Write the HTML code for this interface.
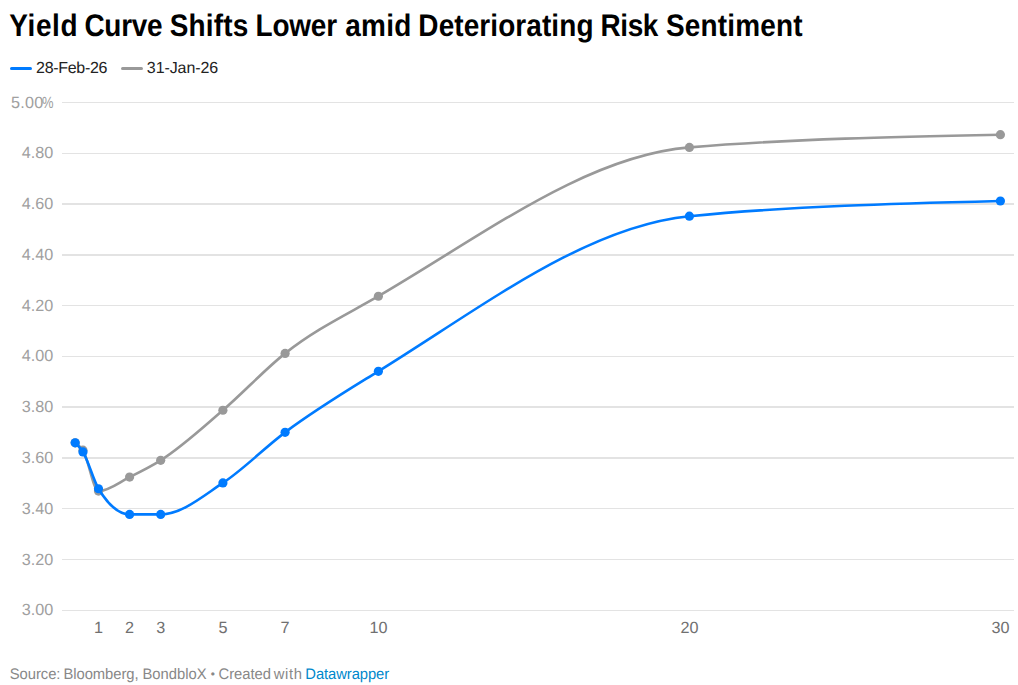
<!DOCTYPE html>
<html lang="en"><head><meta charset="utf-8"><title>Yield Curve Shifts Lower amid Deteriorating Risk Sentiment</title>
<style>
html,body{margin:0;padding:0;background:#fff;overflow:hidden;}
body{width:1018px;height:685px;position:relative;overflow:hidden;font-family:"Liberation Sans",Arial,sans-serif;text-rendering:geometricPrecision;}
.w{position:absolute;top:0;white-space:nowrap;}
#title{position:absolute;left:0;top:7.6px;width:1000px;height:36px;margin:0;font-size:31.2px;line-height:36px;font-weight:700;color:#000;transform:scaleX(0.896);transform-origin:0 0;}
#legend{position:absolute;left:0;top:58.6px;width:1018px;height:20px;font-size:16px;line-height:20px;color:#222;}
#legend .k{position:absolute;top:8.2px;width:21.8px;height:3px;border-radius:1.5px;}
#footer{position:absolute;left:0;top:664.7px;width:1000px;height:20px;font-size:15.3px;line-height:20px;color:#888;transform:scaleX(0.967);transform-origin:0 0;}
#footer a{color:#0088cc;text-decoration:none;}
svg{position:absolute;left:0;top:0;}
svg text{font-family:"Liberation Sans",Arial,sans-serif;font-size:16.2px;text-rendering:geometricPrecision;}
</style></head><body>
<h1 id="title"><span class="w t" style="left:10.34px;letter-spacing:0.729px">Yield</span> <span class="w t" style="left:94.24px;letter-spacing:-0.295px">Curve</span> <span class="w t" style="left:189.41px;letter-spacing:0.233px">Shifts</span> <span class="w t" style="left:285.14px;letter-spacing:-0.183px">Lower</span> <span class="w t" style="left:385.28px;letter-spacing:0.320px">amid</span> <span class="w t" style="left:466.93px;letter-spacing:0.111px">Deteriorating</span> <span class="w t" style="left:670.16px;letter-spacing:-0.423px">Risk</span> <span class="w t" style="left:743.25px;letter-spacing:0.217px">Sentiment</span></h1>
<div id="legend">
<span class="k" style="left:10.1px;background:#007bff"></span><span class="k" style="left:121px;background:#999"></span><span class="w l" style="left:36.12px;letter-spacing:-0.314px">28-Feb-26</span> <span class="w l" style="left:146.85px;letter-spacing:-0.097px">31-Jan-26</span>
</div>
<svg width="1018" height="685" viewBox="0 0 1018 685">
<g fill="#e3e3e3" shape-rendering="crispEdges"><rect x="62" y="102" width="952" height="1"/><rect x="62" y="153" width="952" height="1"/><rect x="62" y="203" width="952" height="2"/><rect x="62" y="254" width="952" height="2"/><rect x="62" y="305" width="952" height="1"/><rect x="62" y="356" width="952" height="1"/><rect x="62" y="406" width="952" height="2"/><rect x="62" y="457" width="952" height="2"/><rect x="62" y="508" width="952" height="1"/><rect x="62" y="559" width="952" height="1"/><rect x="62" y="610" width="952" height="1"/></g>
<g fill="#a0a0a0"><text x="43.7" y="107.6" text-anchor="end" letter-spacing="0.3">5.00</text><text transform="translate(53.6 107.6) scale(0.8 1)" text-anchor="end">%</text><text x="53.3" y="158.4" text-anchor="end" letter-spacing="0.02">4.80</text><text x="53.3" y="209.2" text-anchor="end" letter-spacing="0.02">4.60</text><text x="53.3" y="259.9" text-anchor="end" letter-spacing="0.02">4.40</text><text x="53.3" y="310.7" text-anchor="end" letter-spacing="0.02">4.20</text><text x="53.3" y="361.4" text-anchor="end" letter-spacing="0.02">4.00</text><text x="53.3" y="412.2" text-anchor="end" letter-spacing="0.02">3.80</text><text x="53.3" y="463.0" text-anchor="end" letter-spacing="0.02">3.60</text><text x="53.3" y="513.7" text-anchor="end" letter-spacing="0.02">3.40</text><text x="53.3" y="564.5" text-anchor="end" letter-spacing="0.02">3.20</text><text x="53.3" y="615.2" text-anchor="end" letter-spacing="0.02">3.00</text></g>
<g fill="#707070"><text x="98.5" y="632.7" text-anchor="middle">1</text><text x="129.6" y="632.7" text-anchor="middle">2</text><text x="160.7" y="632.7" text-anchor="middle">3</text><text x="222.9" y="632.7" text-anchor="middle">5</text><text x="285.1" y="632.7" text-anchor="middle">7</text><text x="378.4" y="632.7" text-anchor="middle">10</text><text x="689.4" y="632.7" text-anchor="middle">20</text><text x="1000.4" y="632.7" text-anchor="middle">30</text></g>
<path d="M75.18,442.79C77.77,444.51,80.36,446.24,82.95,450.15C88.13,457.97,93.32,491.05,98.50,491.05C108.87,491.05,119.23,482.20,129.60,477.08C139.97,471.95,150.33,466.82,160.70,460.31C181.43,447.30,202.17,428.10,222.90,410.27C243.63,392.45,264.37,369.84,285.10,353.38C316.20,328.69,347.30,314.32,378.40,296.23C482.07,235.93,585.73,155.85,689.40,147.38C793.07,138.92,896.73,136.80,1000.40,134.68" fill="none" stroke="#999" stroke-width="2.6" stroke-linejoin="round" stroke-linecap="round"/>
<g fill="#999"><circle cx="75.18" cy="442.79" r="4.6"/><circle cx="82.95" cy="450.15" r="4.6"/><circle cx="98.50" cy="491.05" r="4.6"/><circle cx="129.60" cy="477.08" r="4.6"/><circle cx="160.70" cy="460.31" r="4.6"/><circle cx="222.90" cy="410.27" r="4.6"/><circle cx="285.10" cy="353.38" r="4.6"/><circle cx="378.40" cy="296.23" r="4.6"/><circle cx="689.40" cy="147.38" r="4.6"/><circle cx="1000.40" cy="134.68" r="4.6"/></g>
<path d="M75.18,442.79C77.77,445.32,80.36,447.85,82.95,451.93C88.13,460.09,93.32,480.21,98.50,488.76C108.87,505.86,119.23,514.41,129.60,514.41C139.97,514.41,150.33,514.41,160.70,514.41C181.43,514.41,202.17,496.59,222.90,482.92C243.63,469.24,264.37,447.91,285.10,432.37C316.20,409.06,347.30,390.53,378.40,371.29C482.07,307.15,585.73,226.38,689.40,216.22C793.07,206.06,896.73,203.52,1000.40,200.98" fill="none" stroke="#007bff" stroke-width="2.6" stroke-linejoin="round" stroke-linecap="round"/>
<g fill="#007bff"><circle cx="75.18" cy="442.79" r="4.6"/><circle cx="82.95" cy="451.93" r="4.6"/><circle cx="98.50" cy="488.76" r="4.6"/><circle cx="129.60" cy="514.41" r="4.6"/><circle cx="160.70" cy="514.41" r="4.6"/><circle cx="222.90" cy="482.92" r="4.6"/><circle cx="285.10" cy="432.37" r="4.6"/><circle cx="378.40" cy="371.29" r="4.6"/><circle cx="689.40" cy="216.22" r="4.6"/><circle cx="1000.40" cy="200.98" r="4.6"/></g>
</svg>
<div id="footer"><span class="w f" style="left:10.09px;letter-spacing:-0.045px">Source:</span> <span class="w f" style="left:65.59px;letter-spacing:-0.048px">Bloomberg,</span> <span class="w f" style="left:147.31px;letter-spacing:0.003px">BondbloX</span> <span class="w f" style="left:217.84px;letter-spacing:0.000px;font-size:0.8em;top:-1.2px">•</span> <span class="w f" style="left:226.04px;letter-spacing:-0.051px">Created</span> <span class="w f" style="left:283.12px;letter-spacing:0.641px">with</span> <a class="w f" style="left:315.71px;letter-spacing:-0.085px;color:#0088cc">Datawrapper</a></div>
</body></html>
